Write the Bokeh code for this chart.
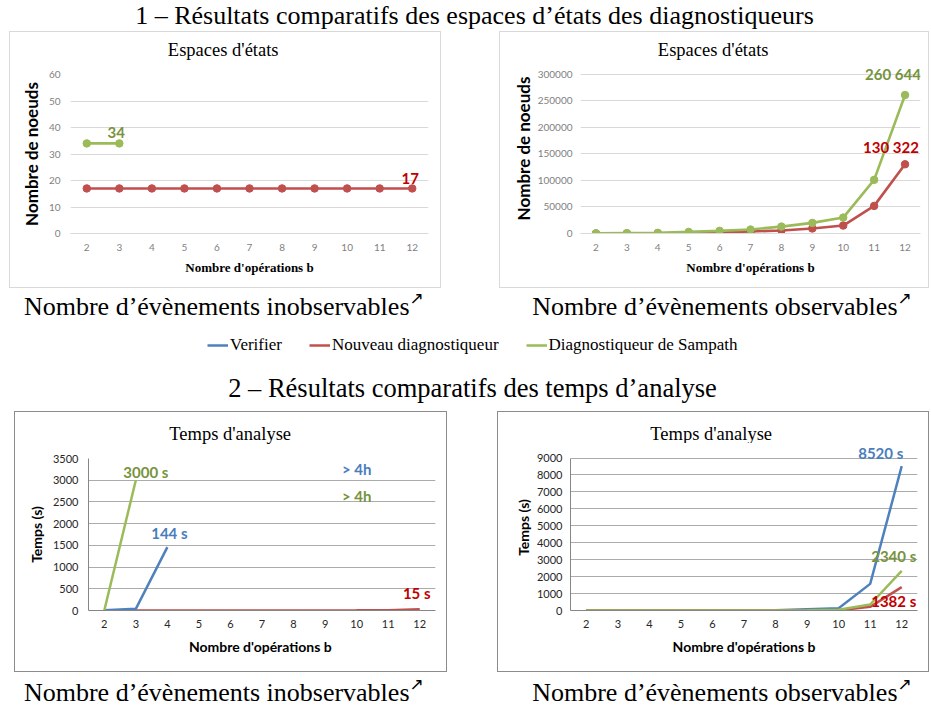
from bokeh.plotting import figure
from bokeh.models import (Range1d, FixedTicker, BasicTickFormatter, ColumnDataSource,
                          LabelSet, Legend, LegendItem, Spacer)
from bokeh.layouts import column, row
from bokeh.core.properties import value
from bokeh.embed import file_html
from bokeh.resources import INLINE

# ---------------- data ----------------
ops = [2, 3, 4, 5, 6, 7, 8, 9, 10, 11, 12]

# 1 - espaces d'états, évènements inobservables
esp_inobs_nouveau = [17, 17, 17, 17, 17, 17, 17, 17, 17, 17, 17]
esp_inobs_sampath_ops = [2, 3]
esp_inobs_sampath = [34, 34]

# 1 - espaces d'états, évènements observables
esp_obs_nouveau = [100, 200, 500, 1000, 2000, 3800, 5700, 9500, 15000, 52000, 130322]
esp_obs_sampath = [300, 700, 1200, 3000, 5000, 7500, 13000, 20000, 30000, 101000, 260644]

# 2 - temps d'analyse, évènements inobservables
tps_inobs_verifier_ops = [2, 3, 4]
tps_inobs_verifier = [5, 38, 1459]
tps_inobs_nouveau = [1, 1, 1, 1, 1, 1, 1, 2, 3, 6, 30]
tps_inobs_sampath_ops = [2, 3]
tps_inobs_sampath = [0, 3000]
notes_x = [10, 10]
notes_y = [3250, 2630]
notes_text = ["> 4h", "> 4h"]

# 2 - temps d'analyse, évènements observables
tps_obs_verifier = [0, 0, 0, 0, 1, 2, 10, 79, 138, 1572, 8520]
tps_obs_nouveau = [0, 0, 0, 0, 0, 0, 1, 3, 10, 216, 1382]
tps_obs_sampath = [0, 0, 0, 0, 0, 1, 5, 20, 50, 354, 2340]

series_names = ["Verifier", "Nouveau diagnostiqueur", "Diagnostiqueur de Sampath"]

BLUE, RED, GREEN = "#4F81BD", "#C0504D", "#9BBB59"
LBL_BLUE, LBL_RED, LBL_GREEN = "#4A7EBB", "#C00000", "#77933C"

SERIF = "Liberation Serif"
SANS = "Lato"
NAN = float("nan")


def blank_fig(width, height, left=0, right=0):
    f = figure(width=width, height=height, x_range=Range1d(left, width - right),
               y_range=Range1d(0, height),
               output_backend="svg", toolbar_location=None, min_border=0,
               min_border_left=left, min_border_right=right, min_border_top=0, min_border_bottom=0,
               x_axis_location=None, y_axis_location=None)
    f.grid.visible = False
    f.outline_line_color = None
    f.border_fill_color = "white"
    f.background_fill_color = "white"
    return f


def make_chart(width, height, mb, y_end, y_grid_max, y_step, x_label, light,
               ylab_standoff, ytick_standoff, xlab_standoff, xtick_standoff):
    p = figure(width=width, height=height, output_backend="svg", toolbar_location=None,
               x_range=Range1d(1.5, 12.5), y_range=Range1d(0, y_end),
               min_border_left=mb[0], min_border_right=mb[1],
               min_border_top=mb[2], min_border_bottom=mb[3])
    p.outline_line_color = None
    p.background_fill_color = "white"
    p.border_fill_color = "white"
    p.xgrid.visible = False
    yt = list(range(0, y_grid_max + 1, y_step))
    p.ygrid.ticker = FixedTicker(ticks=yt)
    p.ygrid.grid_line_color = "#D9D9D9" if light else "#ABABAB"
    p.ygrid.grid_line_width = 1
    p.yaxis.ticker = FixedTicker(ticks=yt)
    p.yaxis.bounds = (0, y_grid_max)
    p.yaxis.formatter = BasicTickFormatter(use_scientific=False)
    p.xaxis.ticker = FixedTicker(ticks=ops)
    for ax in (p.xaxis[0], p.yaxis[0]):
        ax.major_tick_line_color = None
        ax.minor_tick_line_color = None
        ax.major_tick_out = 0
        ax.major_tick_in = 0
        ax.major_label_text_font = SANS
        ax.major_label_text_font_size = "10px" if light else "11px"
        ax.major_label_text_color = "#7F7F7F" if light else "#262626"
        ax.axis_label_text_font_style = "bold"
        ax.axis_label_text_color = "black"
    p.yaxis.axis_line_color = None if light else "#868686"
    p.xaxis.axis_line_color = "#D9D9D9" if light else "#868686"
    p.yaxis.axis_label = "Nombre de noeuds" if light else "Temps (s)"
    p.yaxis.axis_label_text_font = SANS
    p.yaxis.axis_label_text_font_size = "17px" if light else "14px"
    p.yaxis.axis_label_standoff = ylab_standoff
    p.yaxis.major_label_standoff = ytick_standoff
    p.xaxis.axis_label = x_label
    p.xaxis.axis_label_text_font = SERIF if light else SANS
    p.xaxis.axis_label_text_font_size = "13px" if light else "14px"
    p.xaxis.axis_label_standoff = xlab_standoff
    p.xaxis.major_label_standoff = xtick_standoff
    return p


def boxed(chart, title, title_h, title_x, title_y, light):
    t = blank_fig(chart.width, title_h, chart.min_border_left, chart.min_border_right)
    t.text(x=[title_x], y=[title_y], text=[title], text_font=value(SERIF),
           text_font_size="18.5px", text_align="center", text_baseline="middle",
           text_color="black")
    return column(t, chart, spacing=0,
                  styles={"border": "1px solid " + ("#D9D9D9" if light else "#8C8C8C")})


def add_labels(p, xs, ys, texts, colors, dx, dy):
    src = ColumnDataSource(dict(x=xs, y=ys, text=texts, color=colors, dx=dx, dy=dy))
    p.add_layout(LabelSet(x="x", y="y", text="text", source=src, text_color="color",
                          x_offset="dx", y_offset="dy", text_align="center",
                          text_baseline="middle", text_font=value(SANS),
                          text_font_style="bold", text_font_size="15px"))


# ---------- chart 1 : espaces d'états, inobservables ----------
tl = make_chart(430, 227, (60, 12, 14, 54), 60, 60, 10,
                "Nombre d'opérations b", True, 4, 10, 6, 10)
tl.line(esp_inobs_sampath_ops, esp_inobs_sampath, line_color=GREEN, line_width=2.6)
tl.scatter(esp_inobs_sampath_ops, esp_inobs_sampath, size=7.5, color=GREEN)
tl.line(ops, esp_inobs_nouveau, line_color=RED, line_width=2.6)
tl.scatter(ops, esp_inobs_nouveau, size=7.5, color=RED)
add_labels(tl, [esp_inobs_sampath_ops[-1], ops[-1]],
           [esp_inobs_sampath[-1], esp_inobs_nouveau[-1]],
           ["34", "17"], [LBL_GREEN, LBL_RED], [-3, -2], [11, 10])
tl_box = boxed(tl, "Espaces  d'états", 28, 215, 11, True)

# ---------- chart 2 : espaces d'états, observables ----------
tr = make_chart(428, 227, (80, 8, 3, 54), 320000, 300000, 50000,
                "Nombre d'opérations b", True, 1, 8, 6, 10)
tr.line(ops, esp_obs_nouveau, line_color=RED, line_width=2.6)
tr.scatter(ops, esp_obs_nouveau, size=7.5, color=RED)
tr.line(ops, esp_obs_sampath, line_color=GREEN, line_width=2.6)
tr.scatter(ops, esp_obs_sampath, size=7.5, color=GREEN)
add_labels(tr, [ops[-1], ops[-1]], [esp_obs_sampath[-1], esp_obs_nouveau[-1]],
           ["260 644", "130 322"], [LBL_GREEN, LBL_RED], [-12, -14], [21, 17])
tr_box = boxed(tr, "Espaces  d'états", 28, 215, 11, True)

# ---------- chart 3 : temps, inobservables ----------
bl = make_chart(431, 227, (73, 11, 14, 61), 3500, 3500, 500,
                "Nombre d'opérations  b", False, 5, 10, 7, 9)
bl.line(ops, tps_inobs_nouveau, line_color=RED, line_width=2.5)
bl.line(tps_inobs_verifier_ops, tps_inobs_verifier, line_color=BLUE, line_width=2.5)
bl.line(tps_inobs_sampath_ops, tps_inobs_sampath, line_color=GREEN, line_width=2.5)
add_labels(bl, [tps_inobs_sampath_ops[-1], tps_inobs_verifier_ops[-1], ops[-1]],
           [tps_inobs_sampath[-1], tps_inobs_verifier[-1], tps_inobs_nouveau[-1]],
           ["3000 s", "144 s", "15 s"], [LBL_GREEN, LBL_BLUE, LBL_RED], [10, 2, -3], [8, 14, 16])
add_labels(bl, notes_x, notes_y, notes_text, [LBL_BLUE, LBL_GREEN], [0, 0], [0, 0])
bl_box = boxed(bl, "Temps  d'analyse", 32, 217, 11, False)

# ---------- chart 4 : temps, observables ----------
br = make_chart(430, 228, (72, 11, 1, 61), 9800, 9000, 1000,
                "Nombre d'opérations b", False, 2, 8, 7, 9)
br.line(ops, tps_obs_verifier, line_color=BLUE, line_width=2.5)
br.line(ops, tps_obs_nouveau, line_color=RED, line_width=2.5)
br.line(ops, tps_obs_sampath, line_color=GREEN, line_width=2.5)
add_labels(br, [ops[-1], ops[-1], ops[-1]],
           [tps_obs_verifier[-1], tps_obs_sampath[-1], tps_obs_nouveau[-1]],
           ["8520 s", "2340 s", "1382 s"], [LBL_BLUE, LBL_GREEN, LBL_RED], [-21, -8, -8], [13, 15, -14])
br_box = boxed(br, "Temps  d'analyse", 31, 215, 10, False)

# ---------- text rows ----------
W = 929


def heading(height, xc, yc, txt, size):
    f = blank_fig(W, height)
    f.text(x=[xc], y=[yc], text=[txt], text_font=value(SERIF), text_font_size=size,
           text_align="center", text_baseline="middle", text_color="black")
    return f


def captions(height, yc):
    f = blank_fig(W, height)
    f.text(x=[409, 897], y=[yc, yc],
           text=["Nombre d\u2019\u00e9v\u00e8nements inobservables",
                 "Nombre d\u2019\u00e9v\u00e8nements observables"],
           text_font=value(SERIF), text_font_size="26px", text_align="right",
           text_baseline="middle", text_color="black")
    f.text(x=[409, 897], y=[yc + 9, yc + 9], text=["\u2197", "\u2197"],
           text_font=value("DejaVu Sans"), text_font_size="17px", text_align="left",
           text_baseline="middle", text_color="black")
    return f


title1 = heading(31, 474, 16, "1 \u2013 R\u00e9sultats comparatifs des espaces d\u2019\u00e9tats des diagnostiqueurs", "26px")
title2 = heading(55, 472, 24, "2 \u2013 R\u00e9sultats comparatifs des temps d\u2019analyse", "26.5px")
cap1 = captions(34, 16)
cap2 = captions(39, 19)

# legend row
lf = blank_fig(W, 34)
rv = lf.line(x=[NAN, NAN], y=[NAN, NAN], line_color=BLUE, line_width=2.5)
rn = lf.line(x=[NAN, NAN], y=[NAN, NAN], line_color=RED, line_width=2.5)
rs = lf.line(x=[NAN, NAN], y=[NAN, NAN], line_color=GREEN, line_width=2.5)
legend = Legend(items=[LegendItem(label=series_names[0], renderers=[rv]),
                       LegendItem(label=series_names[1], renderers=[rn]),
                       LegendItem(label=series_names[2], renderers=[rs])],
                orientation="horizontal", location=(207, 1), padding=0, margin=0,
                spacing=27, glyph_width=21, glyph_height=20, label_height=20,
                label_standoff=2, label_text_font=SERIF, label_text_font_size="17px",
                label_text_color="black",
                border_line_color=None, background_fill_alpha=0)
lf.add_layout(legend)

top = row(Spacer(width=9, height=257), tl_box, Spacer(width=58, height=257), tr_box, spacing=0)
bottom = row(Spacer(width=14, height=261), bl_box, Spacer(width=50, height=261), br_box, spacing=0)

page = column(title1, top, cap1, lf, title2, bottom, cap2, spacing=0)

open("out.html", "w").write(file_html(page, INLINE))
